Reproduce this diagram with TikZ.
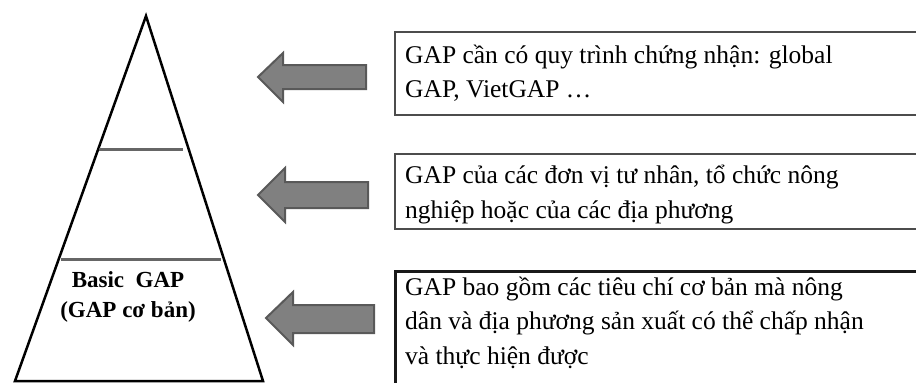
\documentclass[tikz,border=0pt]{standalone}
\usepackage{fontspec}
\setmainfont{Liberation Serif}
\begin{document}
\begin{tikzpicture}[x=1pt,y=-1pt,
  boxline/.style={draw=black!70,line width=1.5pt},
  boxthick/.style={draw=black!90,line width=3pt},
  gararrow/.style={fill=black!50,draw=black!65,line width=2pt,line join=miter},
  divider/.style={draw=black!60,line width=3pt},
  boxtext/.style={anchor=base west,align=left,inner sep=0pt,font=\fontsize{25.5}{34.5}\selectfont},
  tritext/.style={anchor=base,inner sep=0pt,font=\fontsize{23}{26}\selectfont\bfseries}]
\useasboundingbox (0,0) rectangle (916,383);
\clip (0,0) rectangle (916,383);
\fill[white] (0,0) rectangle (916,383);
% pyramid
\draw[line width=2.5pt,line join=miter] (146,16) -- (15,381) -- (263,381) -- cycle;
\draw[divider] (99,149) -- (183,149);
\draw[divider] (61,259) -- (221,259);
\node[tritext] (basic) at (128,287) {Basic\ \ GAP};
\node[tritext] (basicvn) at (128,317) {(GAP cơ bản)};
% arrows
\draw[gararrow] (258,77) -- (283,53) -- (283,65) -- (366,65) -- (366,89) -- (283,89) -- (283,102) -- cycle;
\draw[gararrow] (258,195) -- (285,168) -- (285,182) -- (368,182) -- (368,208) -- (285,208) -- (285,222) -- cycle;
\draw[gararrow] (266,318) -- (293,292) -- (293,305) -- (374,305) -- (374,333) -- (293,333) -- (293,345) -- cycle;
% boxes
\draw[boxline] (395,32) rectangle (940,115);
\draw[boxline] (395,154) rectangle (940,229);
\draw[boxthick] (395,271) rectangle (940,400);
% text (base anchor = baseline of last line)
\node[boxtext] (t1) at (405,97.5) {GAP cần có quy trình chứng nhận: global\\GAP, VietGAP …};
\node[boxtext] (t2) at (405,218) {GAP của các đơn vị tư nhân, tổ chức nông\\nghiệp hoặc của các địa phương};
\node[boxtext] (t3) at (405,364) {GAP bao gồm các tiêu chí cơ bản mà nông\\dân và địa phương sản xuất có thể chấp nhận\\và thực hiện được};
\end{tikzpicture}
\end{document}
